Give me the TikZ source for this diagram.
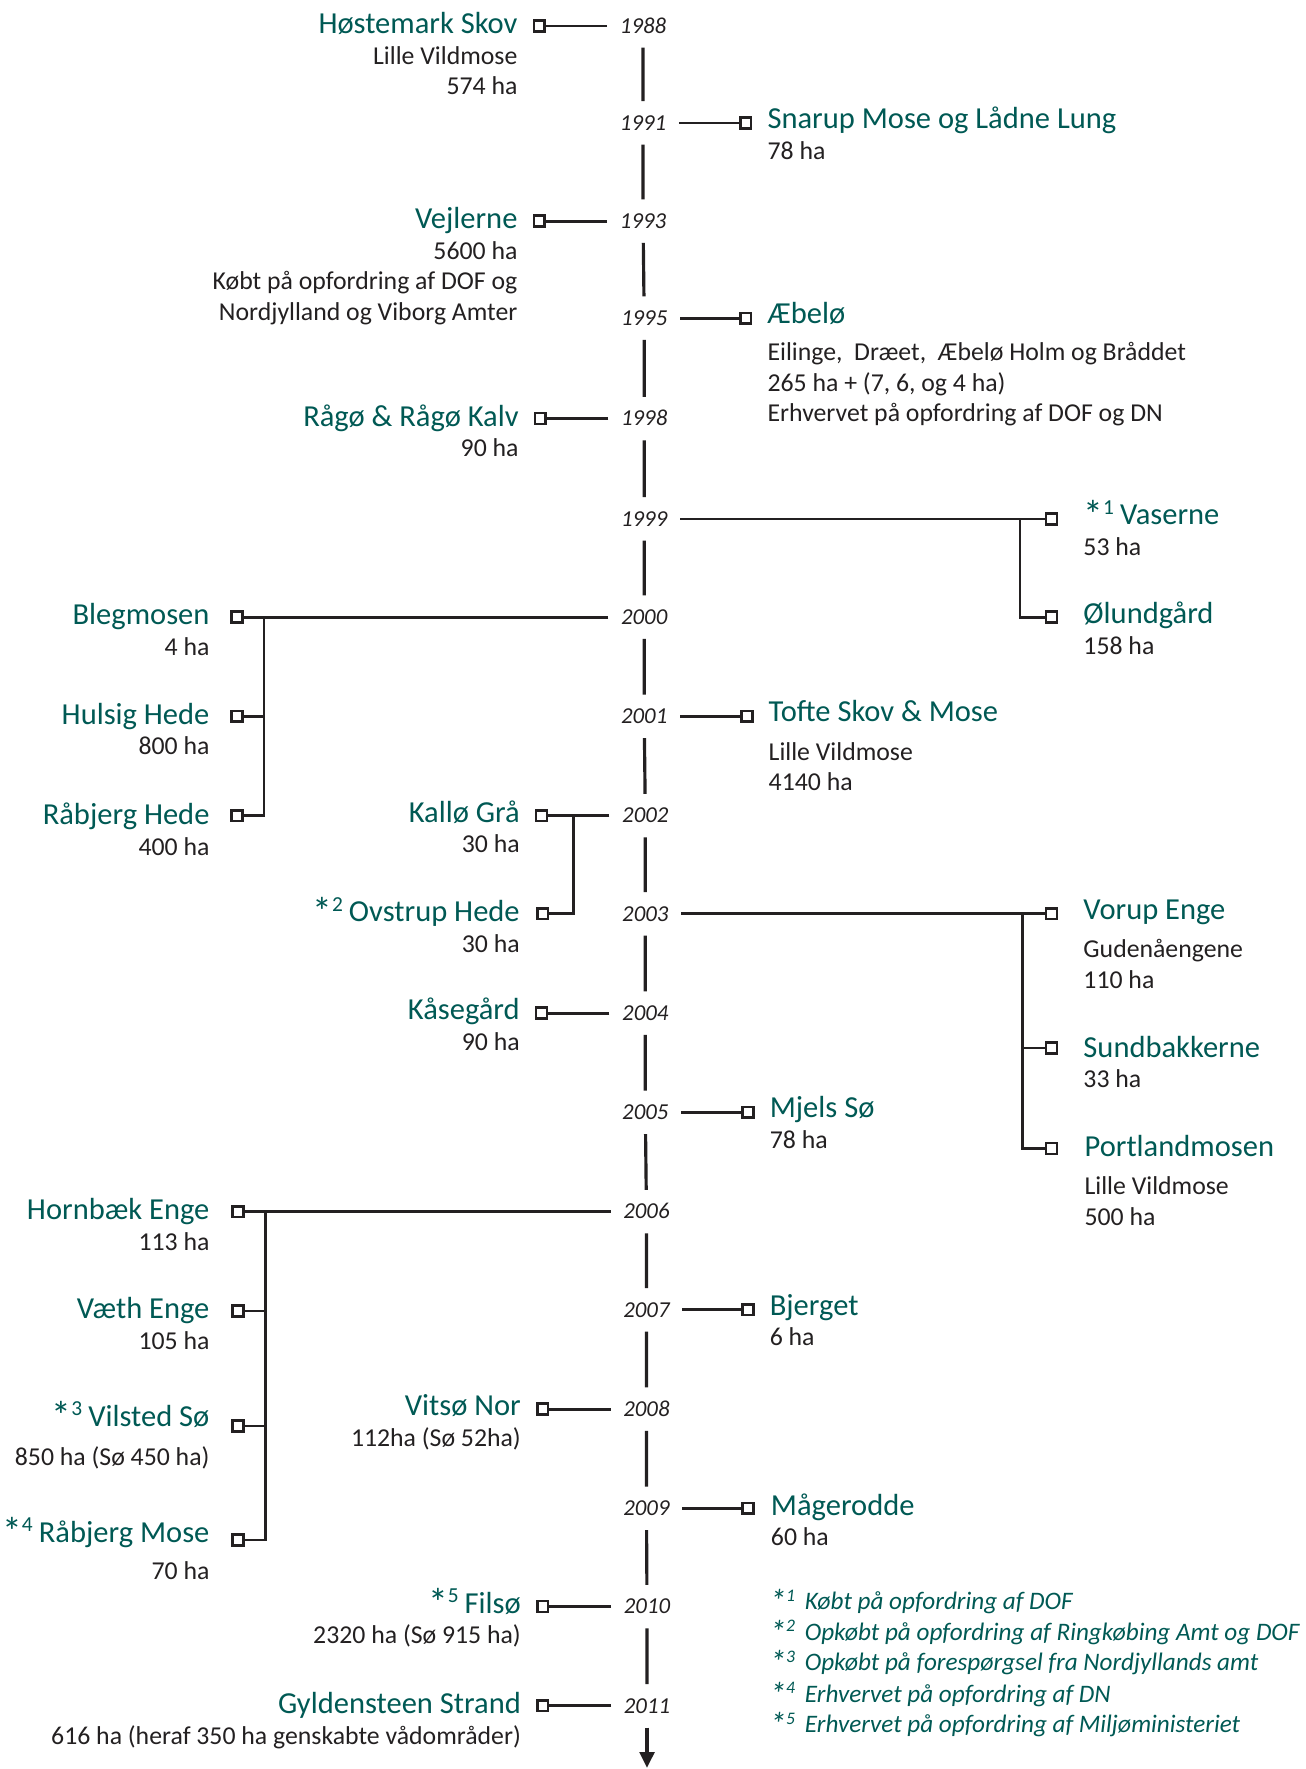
\documentclass[tikz,border=0pt]{standalone}
\usepackage{fontspec}
\setmainfont{Carlito}
\usepackage{xcolor}
\usetikzlibrary{positioning,arrows.meta}

\definecolor{siteteal}{RGB}{0,89,84}
\definecolor{inkgray}{RGB}{35,32,33}
\newcommand\ttlsize{\fontsize{15.4}{15.4}\selectfont}
\newcommand\subsize{\fontsize{13}{15.4}\selectfont}
\newcommand\yearsize{\fontsize{11.5}{13}\selectfont\itshape}
\newcommand\notesize{\fontsize{12.7}{15}\selectfont\itshape}
\newcommand\sitename[1]{{\ttlsize\color{siteteal}#1}}
\newcommand\noteref[1]{\raisebox{-0.25ex}{\scalebox{1.3}{*}}\textsuperscript{#1}}

\tikzset{
  year/.style={font=\yearsize, text=inkgray, inner xsep=0.22cm, inner ysep=0.25cm, text height=7.3pt, text depth=0pt},
  sq/.style={draw=inkgray, fill=white, line width=1.3pt, minimum size=0.19cm, inner sep=0pt},
  lsite/.style={font=\subsize, text=inkgray, align=right, anchor=base east, inner sep=0pt},
  rsite/.style={font=\subsize, text=inkgray, align=left, anchor=base west, inner sep=0pt},
  link/.style={draw=inkgray, line width=1.4pt},
  axis/.style={draw=inkgray, line width=1.6pt},
  note/.style={font=\notesize, text=siteteal, anchor=base west, inner sep=0pt}
}

\begin{document}
\begin{tikzpicture}[x=0.02cm, y=-0.02cm]
\useasboundingbox (0,0) rectangle (1157,1568);

% years on the time axis
\node[year] (y1988) at (570,23) {1988};
\node[year] (y1991) at (570,109) {1991};
\node[year] (y1993) at (570,196) {1993};
\node[year] (y1995) at (571,282) {1995};
\node[year] (y1998) at (571,371) {1998};
\node[year] (y1999) at (571,460) {1999};
\node[year] (y2000) at (571,547) {2000};
\node[year] (y2001) at (571,635) {2001};
\node[year] (y2002) at (572,723) {2002};
\node[year] (y2003) at (572,810) {2003};
\node[year] (y2004) at (572,898) {2004};
\node[year] (y2005) at (572,986) {2005};
\node[year] (y2006) at (573,1074) {2006};
\node[year] (y2007) at (573,1161) {2007};
\node[year] (y2008) at (573,1249) {2008};
\node[year] (y2009) at (573,1337) {2009};
\node[year] (y2010) at (573.5,1424) {2010};
\node[year] (y2011) at (573.5,1512) {2011};
\coordinate (axisEnd) at (573.5,1567);

\draw[axis] (y1988) -- (y1991) (y1991) -- (y1993) (y1993) -- (y1995)
  (y1995) -- (y1998) (y1998) -- (y1999) (y1999) -- (y2000)
  (y2000) -- (y2001) (y2001) -- (y2002) (y2002) -- (y2003)
  (y2003) -- (y2004) (y2004) -- (y2005) (y2005) -- (y2006)
  (y2006) -- (y2007) (y2007) -- (y2008) (y2008) -- (y2009)
  (y2009) -- (y2010) (y2010) -- (y2011);
\draw[axis, -{Triangle[length=0.28cm, width=0.26cm]}] (y2011) -- (axisEnd);

% squares
\node[sq] (sHoest) at (478,23) {};
\node[sq] (sSnarup) at (661,109) {};
\node[sq] (sVejl) at (478,196) {};
\node[sq] (sAebel) at (661,282) {};
\node[sq] (sRago) at (479,371) {};
\node[sq] (sVaser) at (932,460) {};
\node[sq] (sOlund) at (932,547) {};
\node[sq] (sBleg) at (210,547) {};
\node[sq] (sHulsig) at (210,635) {};
\node[sq] (sRaabH) at (210,723) {};
\node[sq] (sTofte) at (662,635) {};
\node[sq] (sKallo) at (480,723) {};
\node[sq] (sOvst) at (481,810) {};
\node[sq] (sVorup) at (932,810) {};
\node[sq] (sSund) at (932,929) {};
\node[sq] (sPort) at (932,1018) {};
\node[sq] (sKaase) at (480,898) {};
\node[sq] (sMjels) at (663,986) {};
\node[sq] (sHorn) at (211,1074) {};
\node[sq] (sVaeth) at (211,1162) {};
\node[sq] (sVilst) at (211,1264) {};
\node[sq] (sRaabM) at (211,1365) {};
\node[sq] (sBjerg) at (663,1161) {};
\node[sq] (sVitso) at (481,1249) {};
\node[sq] (sMaage) at (663,1337) {};
\node[sq] (sFilso) at (481,1424) {};
\node[sq] (sGyld) at (481,1512) {};

% bracket corners
\coordinate (kVaser) at (904,460);
\coordinate (kBleg) at (234,547);
\coordinate (kKallo) at (508,723);
\coordinate (kVorup) at (906,810);
\coordinate (kHorn) at (235,1074);

% links
\draw[link] (y1988) -- (sHoest);
\draw[link] (y1991) -- (sSnarup);
\draw[link] (y1993) -- (sVejl);
\draw[link] (y1995) -- (sAebel);
\draw[link] (y1998) -- (sRago);
\draw[link] (y1999) -- (sVaser);
\draw[link] (sOlund) -| (kVaser);
\draw[link] (y2000) -- (sBleg);
\draw[link] (sHulsig) -- (sHulsig -| kBleg);
\draw[link] (sRaabH) -| (kBleg);
\draw[link] (y2001) -- (sTofte);
\draw[link] (y2002) -- (sKallo);
\draw[link] (sOvst) -| (kKallo);
\draw[link] (y2003) -- (sVorup);
\draw[link] (sSund) -- (sSund -| kVorup);
\draw[link] (sPort) -| (kVorup);
\draw[link] (y2004) -- (sKaase);
\draw[link] (y2005) -- (sMjels);
\draw[link] (y2006) -- (sHorn);
\draw[link] (sVaeth) -- (sVaeth -| kHorn);
\draw[link] (sVilst) -- (sVilst -| kHorn);
\draw[link] (sRaabM) -| (kHorn);
\draw[link] (y2007) -- (sBjerg);
\draw[link] (y2008) -- (sVitso);
\draw[link] (y2009) -- (sMaage);
\draw[link] (y2010) -- (sFilso);
\draw[link] (y2011) -- (sGyld);

% sites, left of the axis (placed at the baseline of the last line)
\node[lsite] (tHoest) at (459,84) {\sitename{Høstemark Skov}\\ Lille Vildmose\\ 574 ha};
\node[lsite] (tVejl) at (459,284) {\sitename{Vejlerne}\\ 5600 ha\\ Købt på opfordring af DOF og\\ Nordjylland og Viborg Amter};
\node[lsite] (tRago) at (460,405) {\sitename{Rågø \& Rågø Kalv}\\ 90 ha};
\node[lsite] (tBleg) at (186,581) {\sitename{Blegmosen}\\ 4 ha};
\node[lsite] (tHulsig) at (186,669) {\sitename{Hulsig Hede}\\ 800 ha};
\node[lsite] (tRaabH) at (186,758) {\sitename{Råbjerg Hede}\\ 400 ha};
\node[lsite] (tKallo) at (461,756) {\sitename{Kallø Grå}\\ 30 ha};
\node[lsite] (tOvst) at (461,844) {\sitename{\noteref{2}\,Ovstrup Hede}\\ 30 ha};
\node[lsite] (tKaase) at (461,931) {\sitename{Kåsegård}\\ 90 ha};
\node[lsite] (tHorn) at (186,1108) {\sitename{Hornbæk Enge}\\ 113 ha};
\node[lsite] (tVaeth) at (186,1196) {\sitename{Væth Enge}\\ 105 ha};
\node[lsite] (tVilst) at (186,1299) {\sitename{\noteref{3}\,Vilsted Sø}\\[4.5pt] 850 ha (Sø 450 ha)};
\node[lsite] (tRaabM) at (186,1400) {\sitename{\noteref{4}\,Råbjerg Mose}\\[3.4pt] 70 ha};
\node[lsite] (tVitso) at (462,1282) {\sitename{Vitsø Nor}\\ 112ha (Sø 52ha)};
\node[lsite] (tFilso) at (462,1457) {\sitename{\noteref{5}\,Filsø}\\ 2320 ha (Sø 915 ha)};
\node[lsite] (tGyld) at (462,1546) {\sitename{Gyldensteen Strand}\\ 616 ha (heraf 350 ha genskabte vådområder)};

% sites, right of the axis
\node[rsite] (tSnarup) at (680,141) {\sitename{Snarup Mose og Lådne Lung}\\ 78 ha};
\node[rsite] (tAebel) at (680,374) {\sitename{Æbelø}\\[3.4pt] Eilinge,\ \ Dræet,\ \ Æbelø Holm og Bråddet\\ 265 ha + (7, 6, og 4 ha)\\ Erhvervet på opfordring af DOF og DN};
\node[rsite] (tVaser) at (960,492) {\sitename{\noteref{1}\,Vaserne}\\ 53 ha};
\node[rsite] (tOlund) at (960,580) {\sitename{Ølundgård}\\ 158 ha};
\node[rsite] (tTofte) at (681,701) {\sitename{Tofte Skov \& Mose}\\[4pt] Lille Vildmose\\ 4140 ha};
\node[rsite] (tVorup) at (960,876) {\sitename{Vorup Enge}\\[4pt] Gudenåengene\\ 110 ha};
\node[rsite] (tSund) at (960,964) {\sitename{Sundbakkerne}\\ 33 ha};
\node[rsite] (tMjels) at (682,1018) {\sitename{Mjels Sø}\\ 78 ha};
\node[rsite] (tPort) at (961,1086) {\sitename{Portlandmosen}\\[4pt] Lille Vildmose\\ 500 ha};
\node[rsite] (tBjerg) at (682,1193) {\sitename{Bjerget}\\ 6 ha};
\node[rsite] (tMaage) at (683,1370) {\sitename{Mågerodde}\\ 60 ha};

% footnotes
\node[note] (n1) at (682,1427) {\noteref{1}};
\node[note] (n2) at (682,1454) {\noteref{2}};
\node[note] (n3) at (682,1481) {\noteref{3}};
\node[note] (n4) at (682,1509) {\noteref{4}};
\node[note] (n5) at (682,1536) {\noteref{5}};
\node[note] (f1) at (713,1427) {Købt på opfordring af DOF};
\node[note] (f2) at (713,1454) {Opkøbt på opfordring af Ringkøbing Amt og DOF};
\node[note] (f3) at (713,1481) {Opkøbt på forespørgsel fra Nordjyllands amt};
\node[note] (f4) at (713,1509) {Erhvervet på opfordring af DN};
\node[note] (f5) at (713,1536) {Erhvervet på opfordring af Miljøministeriet};
\end{tikzpicture}
\end{document}
